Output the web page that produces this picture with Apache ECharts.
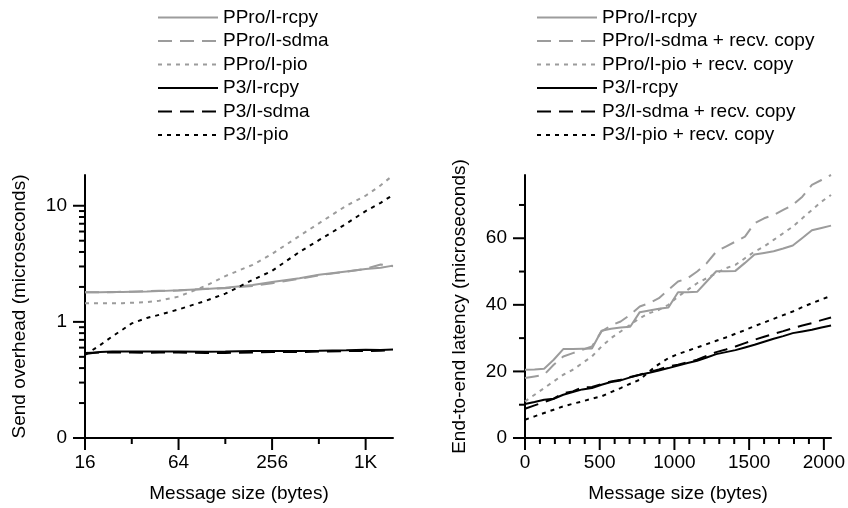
<!DOCTYPE html>
<html><head><meta charset="utf-8">
<script src="https://cdn.jsdelivr.net/npm/echarts@6/dist/echarts.min.js"></script>
<style>html,body{margin:0;padding:0;background:#fff}#c{width:848px;height:508px}</style>
</head><body><div id="c"></div>
<script>
// ---------- data: left panel (send overhead, log-log) ----------
const leftSizes = [16, 20, 24, 28, 32, 40, 48, 64, 96, 128, 192, 256, 384, 512, 768, 1024, 1280, 1536];
const pproRcpySend = [1.80,1.80,1.81,1.81,1.82,1.83,1.84,1.87,1.92,1.97,2.08,2.20,2.38,2.55,2.72,2.85,2.92,3.05];
const pproSdmaSend = [1.80,1.80,1.80,1.82,1.82,1.84,1.85,1.86,1.93,1.95,2.04,2.15,2.35,2.52,2.70,2.86,3.12,3.02];
const pproPioSend  = [1.45,1.45,1.45,1.45,1.46,1.48,1.52,1.65,2.05,2.48,3.10,3.85,5.50,7.05,10.0,12.2,15.0,18.3];
const p3RcpySend   = [0.53,0.55,0.555,0.555,0.555,0.555,0.555,0.555,0.553,0.555,0.56,0.56,0.562,0.565,0.57,0.575,0.572,0.578];
const p3SdmaSend   = [0.54,0.545,0.545,0.545,0.545,0.54,0.545,0.545,0.54,0.54,0.545,0.55,0.55,0.555,0.56,0.56,0.565,0.57];
const p3PioSend    = [0.52,0.63,0.75,0.86,0.97,1.08,1.15,1.28,1.52,1.75,2.30,2.75,4.00,5.05,7.00,9.00,10.6,12.4];

// ---------- data: right panel (end-to-end latency, linear) ----------
const rightSizes = [0,64,128,192,256,320,384,448,512,576,640,704,768,832,896,960,1024,1088,1152,1216,1280,1344,1408,1472,1536,1600,1664,1728,1792,1856,1920,1984,2048];
const pproRcpyLat = [20.5,20.6,20.8,23.5,26.7,26.7,26.8,26.9,32.2,32.8,33.2,33.4,37.8,38.3,38.8,39.2,43.8,43.8,43.9,47.0,50.1,50.1,50.2,52.6,55.1,55.6,56.1,56.9,57.8,60.1,62.4,63.1,63.8];
const pproSdmaLat = [18.0,18.5,19.0,22.0,24.5,25.5,26.5,27.5,32.0,33.8,35.0,37.0,39.5,40.5,42.0,44.5,47.0,48.0,50.0,52.5,56.0,57.5,59.0,60.5,64.5,66.0,67.0,68.5,70.0,72.5,76.0,77.5,79.0];
const pproPioLat  = [11.0,13.0,15.0,17.0,19.0,20.5,22.5,24.5,27.5,30.0,32.0,34.0,36.0,37.5,38.5,40.0,42.5,44.5,46.5,48.0,49.5,51.0,52.0,54.0,56.0,57.5,59.5,61.5,63.5,66.0,68.5,71.0,73.0];
const p3RcpyLat   = [10.2,10.8,11.5,11.8,13.0,13.8,14.6,15.0,16.0,16.8,17.3,18.2,19.0,19.6,20.3,21.0,21.8,22.5,23.2,24.2,25.2,25.8,26.4,27.2,28.0,28.9,29.8,30.6,31.5,32.0,32.5,33.2,33.8];
const p3SdmaLat   = [8.8,9.8,10.8,11.8,13.5,14.0,15.2,15.3,16.2,17.0,17.5,18.3,19.0,19.8,20.6,21.5,22.0,22.8,23.5,24.7,25.8,26.6,27.5,28.5,29.5,30.4,31.3,32.1,33.0,33.8,34.5,35.4,36.2];
const p3PioLat    = [5.5,6.5,7.5,8.5,9.5,10.3,11.0,11.8,12.5,13.8,15.0,16.3,17.5,20.0,22.2,24.0,25.2,26.2,27.2,28.2,29.2,30.2,31.3,32.4,33.6,34.7,35.8,36.9,38.0,39.3,40.5,41.6,42.7];

// ---------- names and tick values ----------
const leftNames  = ['PPro/I-rcpy','PPro/I-sdma','PPro/I-pio','P3/I-rcpy','P3/I-sdma','P3/I-pio'];
const rightNames = ['PPro/I-rcpy','PPro/I-sdma + recv. copy','PPro/I-pio + recv. copy','P3/I-rcpy','P3/I-sdma + recv. copy','P3/I-pio + recv. copy'];
const leftXMajor = [16, 64, 256, 1024];
const leftXMinor = [32, 128, 512];
const leftXLabels = {16:'16', 64:'64', 256:'256', 1024:'1K'};
const leftYMajor = [0.1, 1, 10];
const leftYMinor = [0.2,0.3,0.4,0.5,0.6,0.7,0.8,0.9,2,3,4,5,6,7,8,9];
const leftYLabels = ['0', '1', '10'];
const rightXMajor = [0, 500, 1000, 1500, 2000];
const rightXMinor = [100,200,300,400,600,700,800,900,1100,1200,1300,1400,1600,1700,1800,1900];
const rightYMajor = [0, 20, 40, 60];
const rightYMinor = [10, 30, 50, 70];

// ---------- styling ----------
const FONT = 'Liberation Sans, Arial, sans-serif';
const GRAY = '#9c9c9c';
const BLACK = '#000';
const txt = {color:'#000', fontSize:19, fontFamily:FONT};
const dashOf = {rcpy:'solid', sdma:[14,8], pio:[4,5]};

function line(name, xs, ys, color, kind, idx) {
  return {
    name, type:'line', xAxisIndex:idx, yAxisIndex:idx, symbol:'none', showSymbol:false,
    data: xs.map((x,i)=>[x, ys[i]]),
    lineStyle:{color, width:2, type:dashOf[kind]}, itemStyle:{color},
    z: color===BLACK ? 4 : 3, animation:false, emphasis:{disabled:true}, silent:true
  };
}

function ticks(idx, xMajor, xMinor, yMajor, yMinor, xMin, yMin) {
  const d = [];
  xMajor.forEach(v=>d.push([v, yMin, 0, 1]));
  xMinor.forEach(v=>d.push([v, yMin, 0, 0]));
  yMajor.forEach(v=>d.push([xMin, v, 1, 1]));
  yMinor.forEach(v=>d.push([xMin, v, 1, 0]));
  return {
    type:'custom', xAxisIndex:idx, yAxisIndex:idx, clip:false, silent:true, z:10, animation:false,
    data:d,
    renderItem(params, api) {
      const p = api.coord([api.value(0), api.value(1)]);
      const isX = api.value(2) === 0;
      const len = api.value(3) === 1 ? 12 : 6;
      const shape = isX ? {x1:p[0], y1:p[1], x2:p[0], y2:p[1]+len}
                        : {x1:p[0]-len, y1:p[1], x2:p[0], y2:p[1]};
      return {type:'line', shape, style:{stroke:'#000', lineWidth:2}};
    }
  };
}

const near = (a,b)=>Math.abs(a-b) < 1e-6*Math.max(1,Math.abs(b));
const axisCommon = {
  axisLine:{show:true, onZero:false, lineStyle:{color:'#000', width:2}},
  axisTick:{show:false}, splitLine:{show:false}, minorTick:{show:false},
  nameLocation:'middle', nameTextStyle:txt
};
const legendCommon = {
  orient:'vertical', top:3, itemWidth:60, itemHeight:14, itemGap:4.5,
  textStyle:Object.assign({lineHeight:19}, txt), selectedMode:false,
  itemStyle:{color:'rgba(0,0,0,0)', borderColor:'rgba(0,0,0,0)', borderWidth:0, opacity:0}
};

const chart = echarts.init(document.getElementById('c'), null, {renderer:'canvas'});
chart.setOption({
  animation:false,
  backgroundColor:'#fff',
  grid:[
    {left:85, right:455, top:175, bottom:70},
    {left:525, right:15, top:175, bottom:70}
  ],
  legend:[
    Object.assign({data:leftNames, left:152}, legendCommon),
    Object.assign({data:rightNames, left:531}, legendCommon)
  ],
  xAxis:[
    Object.assign({}, axisCommon, {gridIndex:0, type:'log', logBase:2, min:16, max:1536,
      name:'Message size (bytes)', nameGap:46,
      axisLabel:Object.assign({margin:15, formatter:v=>{for (const k of leftXMajor) if (near(v,k)) return leftXLabels[k]; return '';}}, txt)}),
    Object.assign({}, axisCommon, {gridIndex:1, type:'value', min:0, max:2048, interval:500,
      name:'Message size (bytes)', nameGap:46,
      axisLabel:Object.assign({margin:15, formatter:v=>rightXMajor.some(k=>near(v,k)) ? String(v) : ''}, txt)})
  ],
  yAxis:[
    Object.assign({}, axisCommon, {gridIndex:0, type:'log', logBase:10, min:0.1, max:18.4,
      name:'Send overhead (microseconds)', nameGap:56,
      axisLabel:Object.assign({margin:18, formatter:v=>{for (let i=0;i<leftYMajor.length;i++) if (near(v,leftYMajor[i])) return leftYLabels[i]; return '';}}, txt)}),
    Object.assign({}, axisCommon, {gridIndex:1, type:'value', min:0, max:79, interval:20,
      name:'End-to-end latency (microseconds)', nameGap:56,
      axisLabel:Object.assign({margin:18, formatter:v=>rightYMajor.some(k=>near(v,k)) ? String(v) : ''}, txt)})
  ],
  series:[
    line(leftNames[0], leftSizes, pproRcpySend, GRAY, 'rcpy', 0),
    line(leftNames[1], leftSizes, pproSdmaSend, GRAY, 'sdma', 0),
    line(leftNames[2], leftSizes, pproPioSend,  GRAY, 'pio', 0),
    line(leftNames[3], leftSizes, p3RcpySend,   BLACK, 'rcpy', 0),
    line(leftNames[4], leftSizes, p3SdmaSend,   BLACK, 'sdma', 0),
    line(leftNames[5], leftSizes, p3PioSend,    BLACK, 'pio', 0),
    line(rightNames[0], rightSizes, pproRcpyLat, GRAY, 'rcpy', 1),
    line(rightNames[1], rightSizes, pproSdmaLat, GRAY, 'sdma', 1),
    line(rightNames[2], rightSizes, pproPioLat,  GRAY, 'pio', 1),
    line(rightNames[3], rightSizes, p3RcpyLat,   BLACK, 'rcpy', 1),
    line(rightNames[4], rightSizes, p3SdmaLat,   BLACK, 'sdma', 1),
    line(rightNames[5], rightSizes, p3PioLat,    BLACK, 'pio', 1),
    ticks(0, leftXMajor, leftXMinor, leftYMajor, leftYMinor, 16, 0.1),
    ticks(1, rightXMajor, rightXMinor, rightYMajor, rightYMinor, 0, 0)
  ]
});
</script></body></html>
